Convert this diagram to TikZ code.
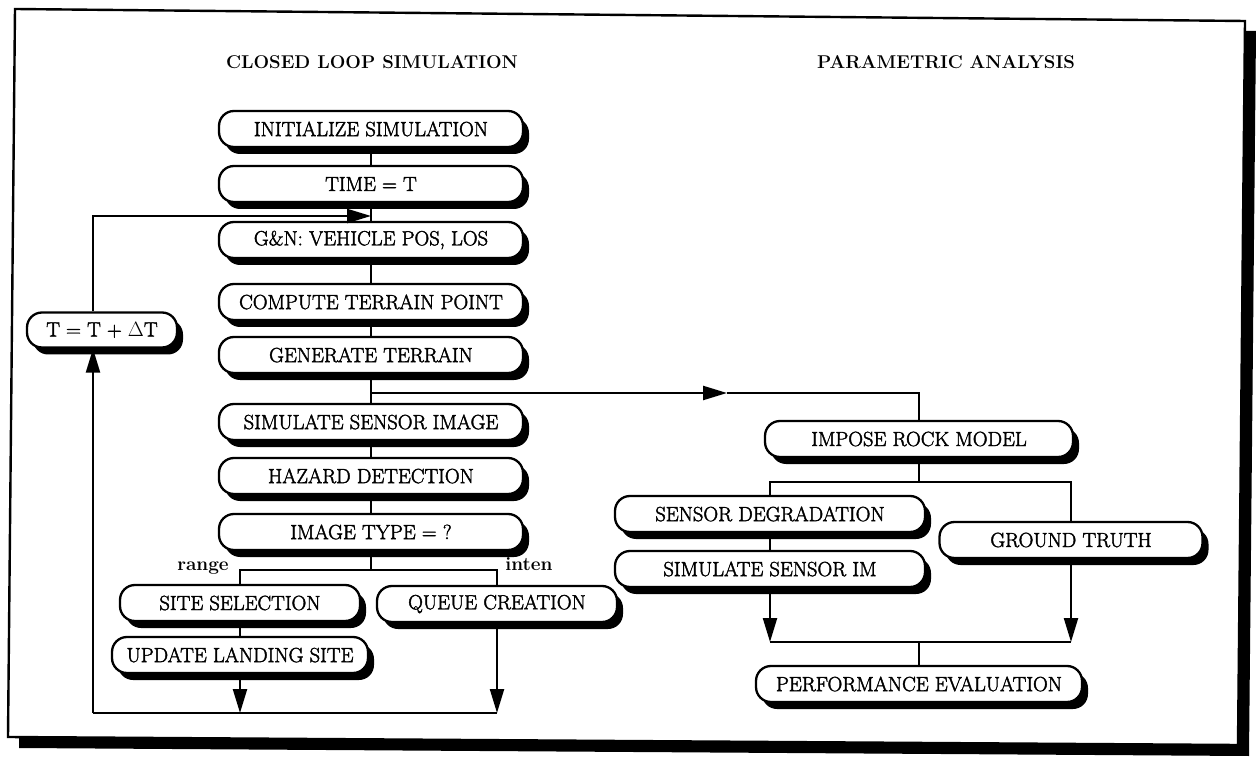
\documentclass[tikz,border=0pt]{standalone}
\usepackage{fontspec}
\setmainfont{Latin Modern Roman}
\newfontfamily\boxfont{Latin Modern Roman}[FakeBold=2]
\usetikzlibrary{arrows.meta,shadows}
\begin{document}
\begin{tikzpicture}[x=1pt,y=-1pt,
  pbox/.style={draw=black, line width=2.3pt, fill=white, rounded corners=15pt,
    minimum height=36pt, inner sep=0pt, font=\boxfont\fontsize{20.5}{24}\selectfont,
    drop shadow={shadow xshift=6pt, shadow yshift=-7pt, fill=black, opacity=1}},
  conn/.style={line width=2.3pt},
  arr/.style={line width=2.3pt, -{Triangle[length=24pt,width=14pt]}},
  ttl/.style={font=\bfseries\fontsize{18.5}{21}\selectfont},
  lbl/.style={font=\bfseries\fontsize{19}{22}\selectfont, inner sep=0pt, anchor=base}]
\useasboundingbox (0,0) rectangle (1256,759);
% frame with shadow
\fill[black] (26,19) -- (1256,31) -- (1249,756) -- (19,748) -- cycle;
\filldraw[fill=white, draw=black, line width=2.4pt] (15,9) -- (1245,21) -- (1238,745) -- (8,737) -- cycle;
% titles
\node[ttl] (t1) at (372,62) {CLOSED LOOP SIMULATION};
\node[ttl] (t2) at (946,62) {PARAMETRIC ANALYSIS};
% coordinates
\coordinate (j1) at (371,216);
\coordinate (j2) at (371,393);
\coordinate (ah) at (727,393);
\coordinate (jb) at (371,570);
\coordinate (bl) at (93,713);
\coordinate (j3) at (919,482);
\coordinate (j4) at (919,642);
% left column nodes
\node[pbox, minimum width=304pt] (init) at (371,129) {INITIALIZE SIMULATION};
\node[pbox, minimum width=304pt] (time) at (371,184) {TIME = T};
\node[pbox, minimum width=304pt] (gn) at (371,240) {G\&N: VEHICLE POS, LOS};
\node[pbox, minimum width=304pt] (comp) at (371,302) {COMPUTE TERRAIN POINT};
\node[pbox, minimum width=304pt] (gen) at (371,355) {GENERATE TERRAIN};
\node[pbox, minimum width=304pt] (sim) at (371,422) {SIMULATE SENSOR IMAGE};
\node[pbox, minimum width=304pt] (haz) at (371,476) {HAZARD DETECTION};
\node[pbox, minimum width=304pt] (imt) at (371,532) {IMAGE TYPE = ?};
\node[pbox, minimum width=240pt] (site) at (240,603) {SITE SELECTION};
\node[pbox, minimum width=240pt] (queue) at (497,604) {QUEUE CREATION};
\node[pbox, minimum width=256pt] (upd) at (240,655) {UPDATE LANDING SITE};
\node[pbox, minimum width=150pt, minimum height=35pt] (tb) at (102,330) {T = T + $\Delta$T};
% right column nodes
\node[pbox, minimum width=308pt] (imp) at (919,439) {IMPOSE ROCK MODEL};
\node[pbox, minimum width=310pt] (sdeg) at (770,514) {SENSOR DEGRADATION};
\node[pbox, minimum width=263pt] (gt) at (1071,540) {GROUND TRUTH};
\node[pbox, minimum width=310pt] (ssim) at (770,569) {SIMULATE SENSOR IM};
\node[pbox, minimum width=326pt] (perf) at (919,684) {PERFORMANCE EVALUATION};
% left connectors
\draw[conn] (init.south) -- (time.north);
\draw[conn] (time.south) -- (gn.north);
\draw[conn] (gn.south) -- (comp.north);
\draw[conn] (comp.south) -- (gen.north);
\draw[conn] (gen.south) -- (sim.north);
\draw[conn] (sim.south) -- (haz.north);
\draw[conn] (haz.south) -- (imt.north);
\draw[conn] (imt.south) -- (jb);
\draw[conn] (site.north) |- (jb) -| (queue.north);
\draw[conn] (site.south) -- (upd.north);
\draw[arr] (upd.south) -- (upd.south |- bl);
\draw[arr] (queue.south) -- (queue.south |- bl);
\draw[conn] (queue.south |- bl) -- (bl);
\draw[arr] (bl) -- (bl |- tb.south);
\draw[arr] (tb.north -| bl) |- (j1);
\draw[arr] (j2) -- (ah);
\draw[conn] (ah) -| (imp.north);
% right connectors
\draw[conn] (imp.south) -- (j3);
\draw[conn] (sdeg.north) |- (j3) -| (gt.north);
\draw[conn] (sdeg.south) -- (ssim.north);
\draw[arr] (ssim.south) -- (ssim.south |- j4);
\draw[arr] (gt.south) -- (gt.south |- j4);
\draw[conn] (ssim.south |- j4) -- (gt.south |- j4);
\draw[conn] (j4) -- (perf.north);
% labels
\node[lbl] (rng) at (203,570) {range};
\node[lbl] (itn) at (529,570) {inten};
\end{tikzpicture}
\end{document}
